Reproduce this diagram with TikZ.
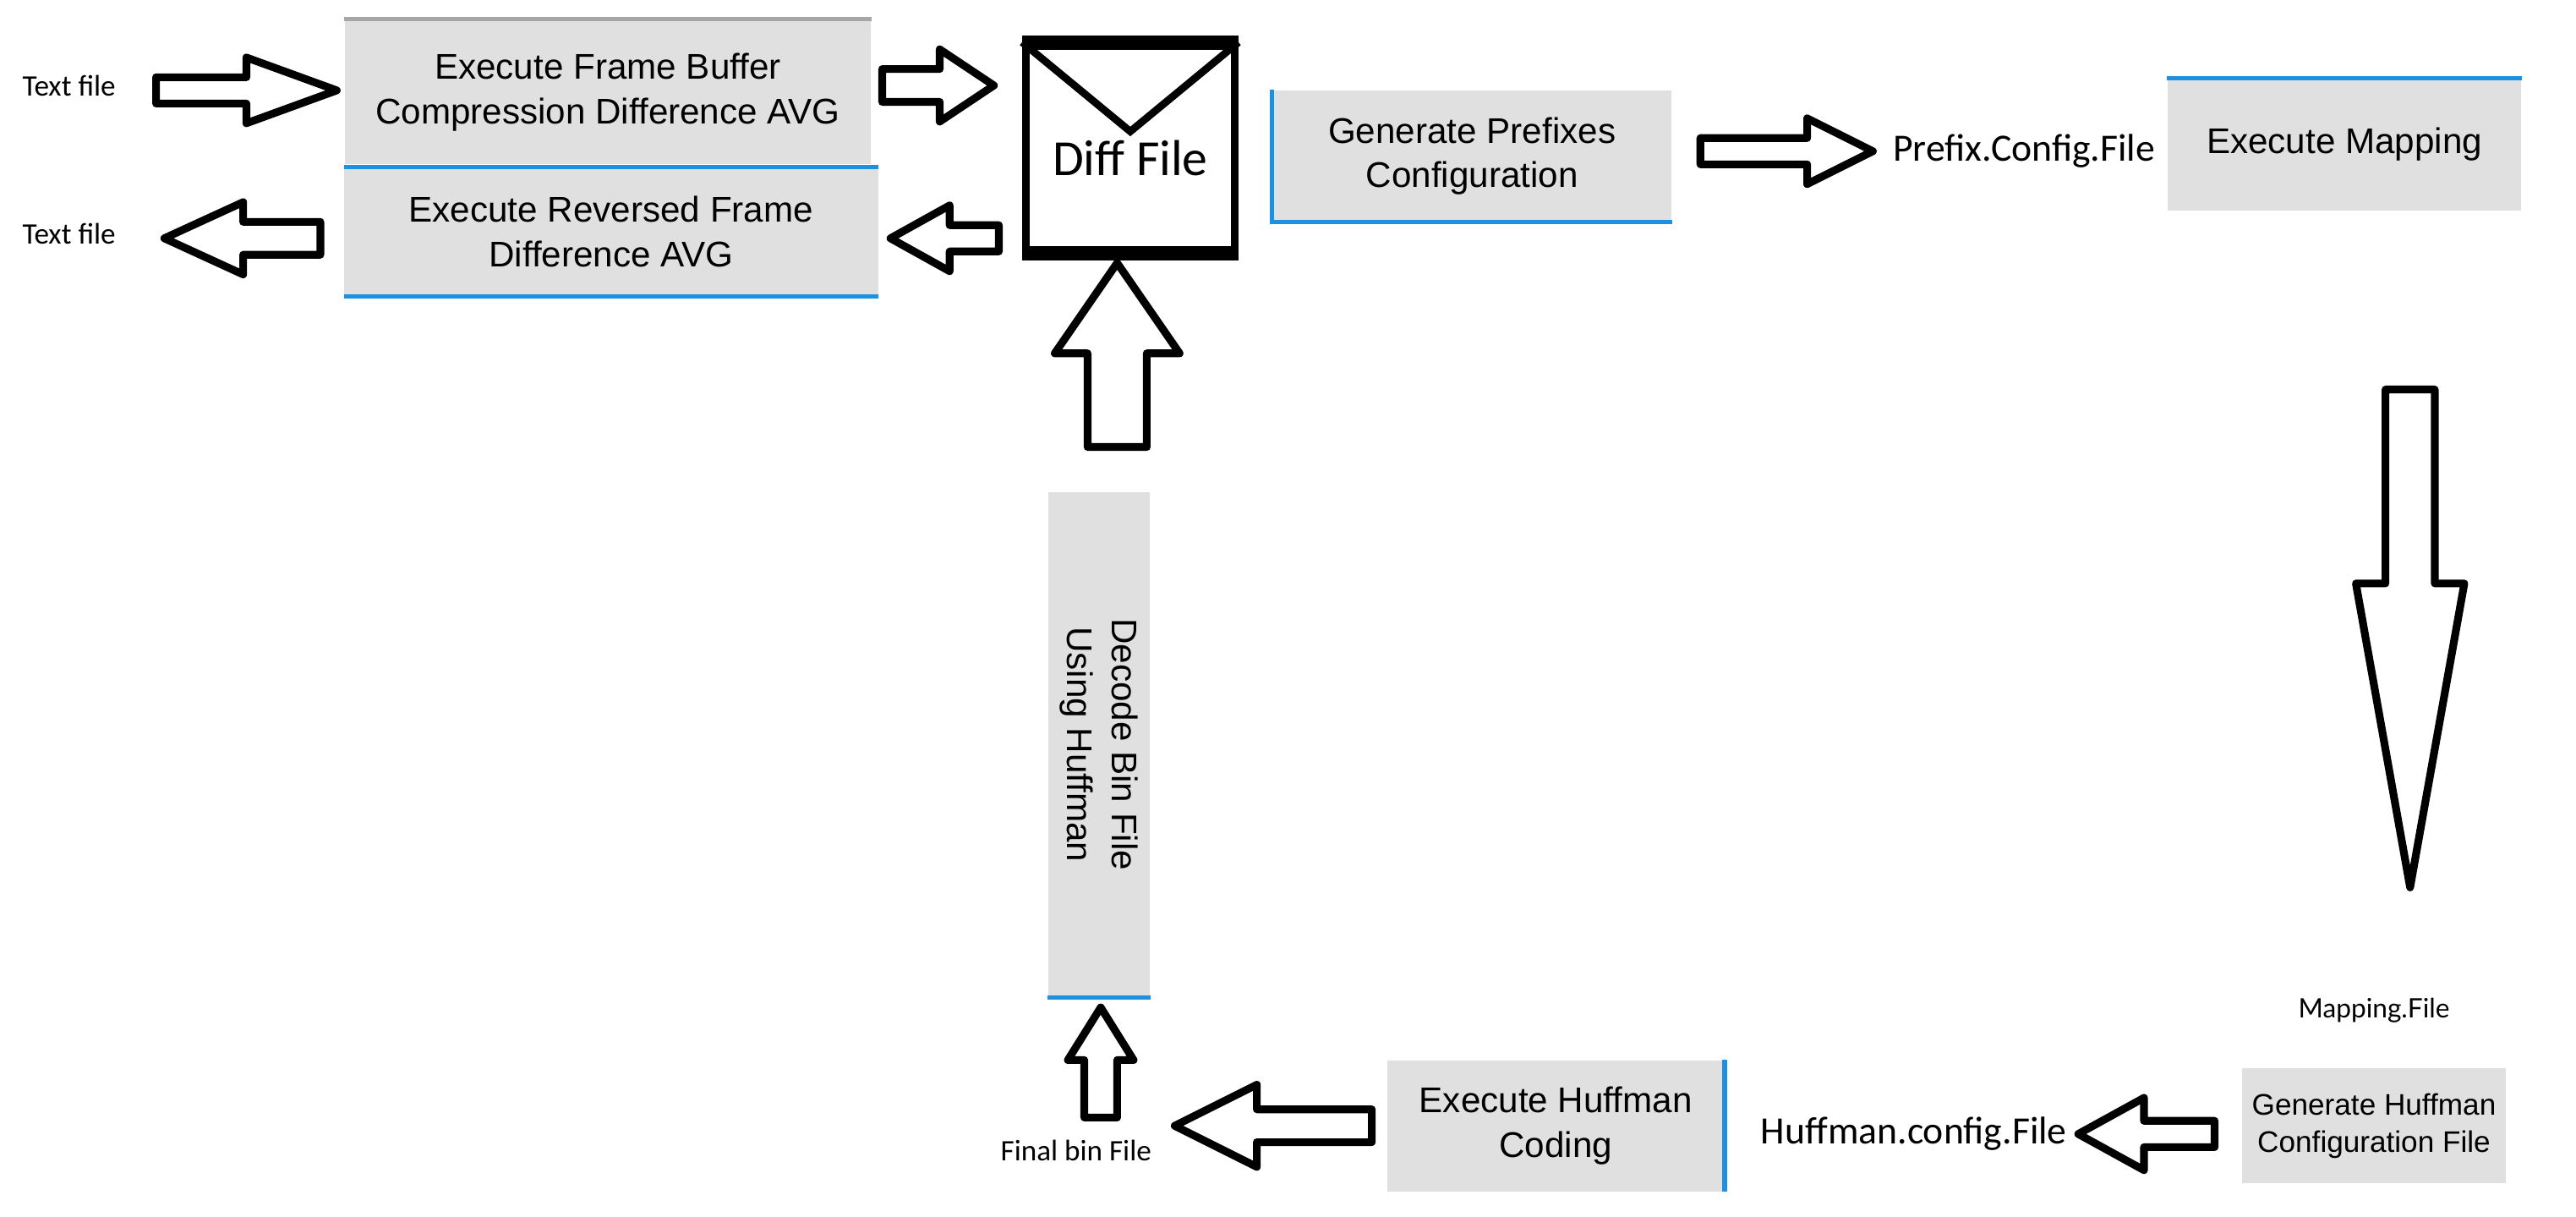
\documentclass[tikz,border=0pt]{standalone}
\usepackage{fontspec}
\setmainfont{Liberation Sans}
\newfontfamily\lbl{Carlito}
\newfontfamily\lat{Lato}
\definecolor{boxgray}{HTML}{E0E0E0}
\definecolor{lineblue}{HTML}{1E90E0}
\newcommand{\harr}[6]{\draw[barrow] (#1,#4-#5)--(#2,#4-#5)--(#2,#4-#6)--(#3,#4)--(#2,#4+#6)--(#2,#4+#5)--(#1,#4+#5)--cycle;}
\newcommand{\varr}[6]{\draw[barrow] (#4-#5,#1)--(#4-#5,#2)--(#4-#6,#2)--(#4,#3)--(#4+#6,#2)--(#4+#5,#2)--(#4+#5,#1)--cycle;}
\begin{document}
\begin{tikzpicture}[x=0.01943cm,y=-0.01943cm,
 barrow/.style={draw=black,line width=2.6pt,line join=round,fill=white},
 box/.style={fill=boxgray,draw=none,align=center,font=\fontsize{12}{15}\selectfont,inner sep=0pt},
 lab/.style={font=\lbl\fontsize{10}{12}\selectfont,inner sep=0pt},
 blue/.style={draw=lineblue,line width=1.5pt}]
\useasboundingbox (0,0) rectangle (1568,740);
\fill[white] (0,0) rectangle (1568,740);
% top left
\node[lab] (t1) at (42,52) {Text file};
\node[lab] (t2) at (42,142) {Text file};
\node[box,minimum width=6.22cm,minimum height=1.71cm] (b1) at (370,56) {Execute Frame Buffer\\Compression Difference AVG};
\draw[gray!70,line width=1.5pt] (b1.north west)--(b1.north east);
\node[box,minimum width=6.31cm,minimum height=1.52cm] (b2) at (372,141) {Execute Reversed Frame\\Difference AVG};
\draw[blue] (b2.north west)--(b2.north east);
\draw[blue] (b2.south west)--(b2.south east);
% envelope
\node[draw,line width=2.5pt,minimum width=2.47cm,minimum height=2.41cm,inner sep=0pt] (env) at (688,90) {};
\draw[line width=4.5pt] (env.north west)--(env.north east);
\draw[line width=4.5pt] (env.south west)--(env.south east);
\coordinate (vtip) at (688,80);
\draw[line width=2.5pt,line join=miter] (env.north west)--(vtip)--(env.north east);
\node[font=\lbl\fontsize{17}{20}\selectfont] (df) at (688,96) {Diff File};
% arrows top left
\harr{95}{150}{205}{55}{8}{20}
\harr{537}{572}{605}{52}{10}{22}
\harr{608}{578}{542}{145}{8}{20}
\harr{195}{148}{100}{145}{10}{22}
% top right
\node[box,minimum width=4.72cm,minimum height=1.55cm] (gp) at (896,95) {Generate Prefixes\\Configuration};
\draw[blue] (gp.north west)--(gp.south west)--(gp.south east);
\harr{1035}{1100}{1140}{92}{8}{20}
\node[font=\lbl\fontsize{13}{15}\selectfont,inner sep=0pt] (pcf) at (1232,92) {Prefix.Config.File};
\node[box,minimum width=4.18cm,minimum height=1.55cm] (em) at (1427,88) {Execute Mapping};
\draw[blue] (em.north west)--(em.north east);
% big down arrow
\varr{237}{355}{540}{1467}{15}{33}
\node[font=\lat\fontsize{9}{11}\selectfont,inner sep=0pt] (mf) at (1445,615) {Mapping.File};
\node[box,font=\fontsize{10}{12.5}\selectfont,minimum width=3.11cm,minimum height=1.36cm] (gh) at (1445,685) {Generate Huffman\\Configuration File};
\harr{1348}{1305}{1265}{690}{8}{22}
\node[font=\lbl\fontsize{13}{15}\selectfont,inner sep=0pt] (hcf) at (1165,690) {Huffman.config.File};
\node[box,minimum width=3.98cm,minimum height=1.55cm] (ehc) at (947,685) {Execute Huffman\\Coding};
\draw[blue] (ehc.north east)--(ehc.south east);
\harr{835}{765}{715}{685}{10}{25}
\node[lab] (fb) at (655,700) {Final bin File};
\varr{680}{645}{613}{670}{10}{20}
% vertical box
\node[box,rotate=-90,minimum width=5.97cm,minimum height=1.2cm] (vb) at (669,453) {Decode Bin File\\Using Huffman};
\draw[blue] (vb.north east)--(vb.south east);
\varr{272}{215}{160}{680}{18}{38}
\end{tikzpicture}
\end{document}
